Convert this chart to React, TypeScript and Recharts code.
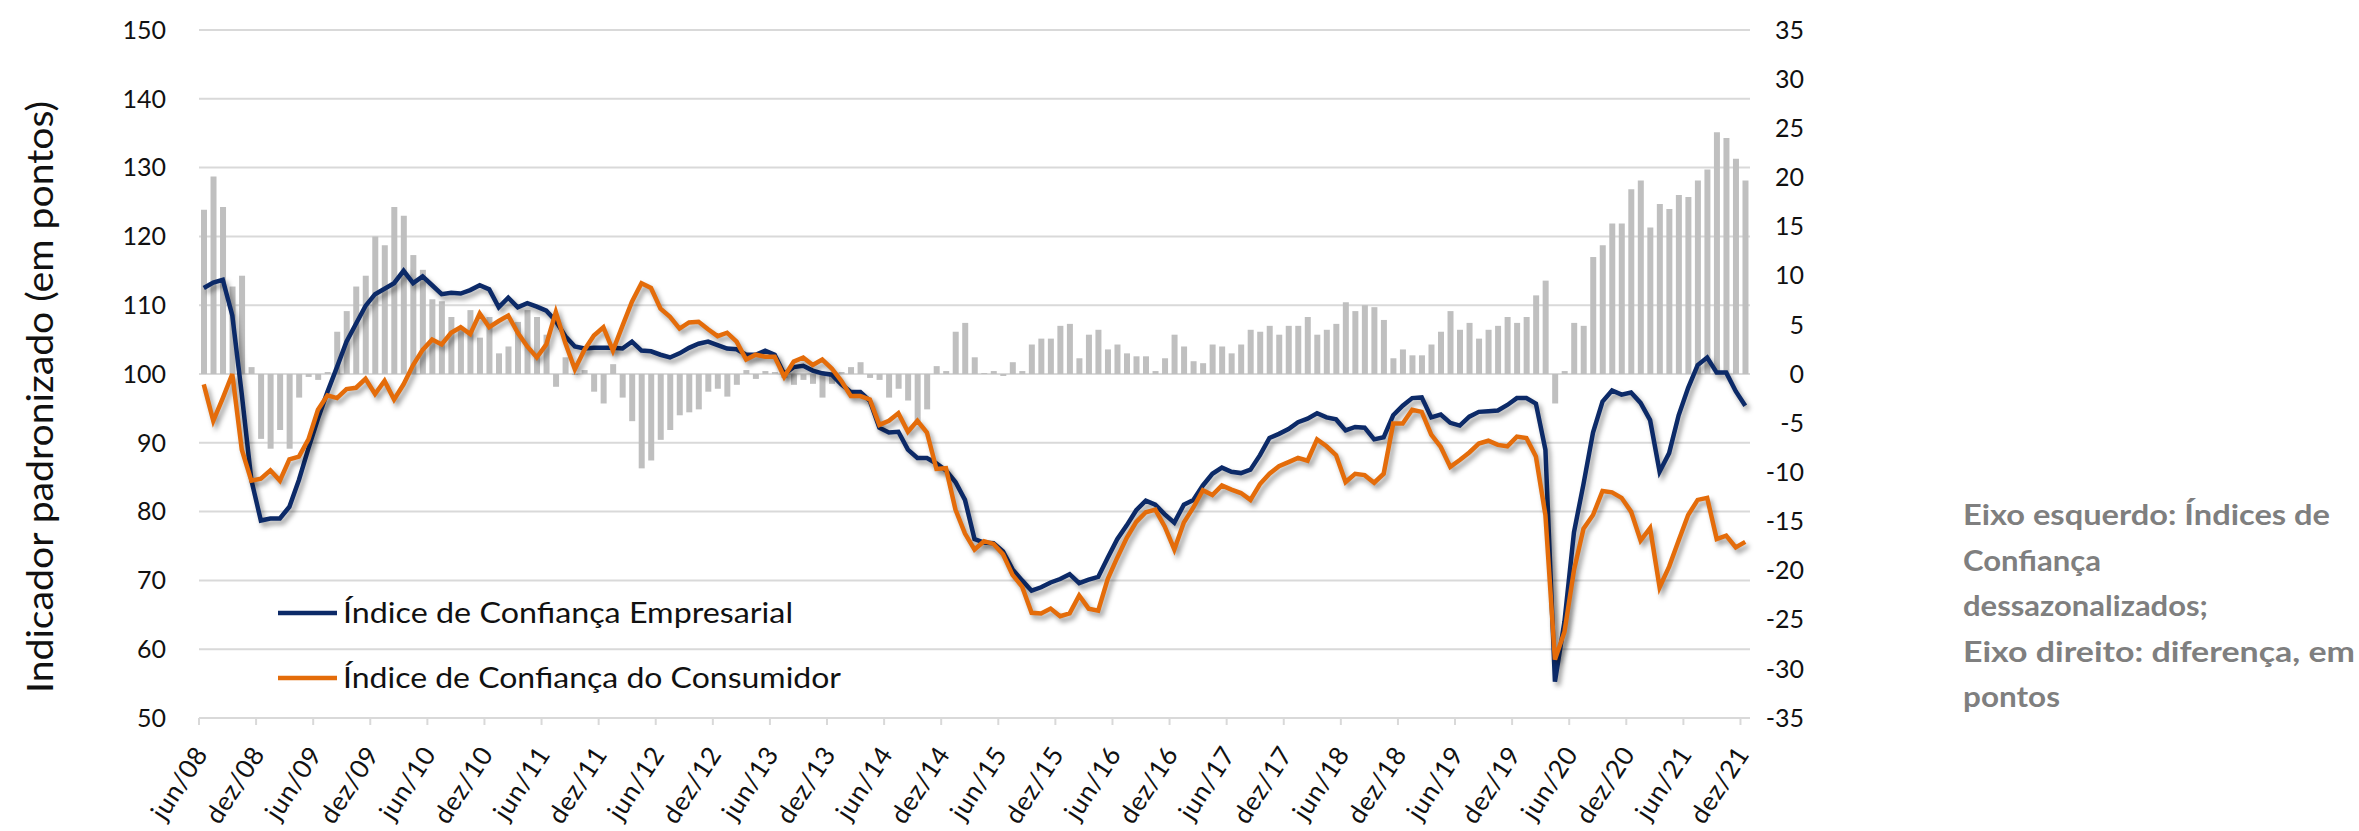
import React from 'react';
import { ComposedChart, Bar, Line, XAxis, YAxis, CartesianGrid } from 'recharts';

// month names as used on the axis (pt-BR)
const MONTHS = ['jan', 'fev', 'mar', 'abr', 'mai', 'jun', 'jul', 'ago', 'set', 'out', 'nov', 'dez'];
const FIRST_YEAR = 2008;
const FIRST_MONTH = 5; // jun/08

// Índice de Confiança Empresarial (eixo esquerdo)
const empresarial = [
  112.5, 113.3, 113.7, 108.5, 97, 84.6, 78.7,
  79, 79, 80.7, 84.6, 89.2, 93.5, 97.4, 101, 104.7, 107.3, 109.9, 111.6,
  112.4, 113.2, 115, 113.2, 114.2, 112.9, 111.6, 111.8, 111.7, 112.2, 112.9, 112.3,
  109.7, 111.1, 109.7, 110.3, 109.8, 109.2, 107.7, 105.5, 104, 103.7, 103.8, 103.8,
  103.8, 103.7, 104.7, 103.4, 103.3, 102.8, 102.4, 103, 103.8, 104.4, 104.7, 104.2,
  103.7, 103.6, 102.8, 102.8, 103.4, 102.8, 100, 101, 101.2, 100.5, 100.1, 99.9,
  98.5, 97.4, 97.4, 96.1, 92.2, 91.5, 91.6, 89, 87.8, 87.8, 87, 86,
  84.3, 81.7, 76, 75.5, 75.4, 74.2, 71.6, 70, 68.5, 69, 69.7, 70.2,
  70.9, 69.6, 70.1, 70.5, 73.3, 76, 78, 80.2, 81.6, 81, 79.6, 78.4,
  81, 81.7, 83.8, 85.5, 86.4, 85.8, 85.6, 86.1, 88.2, 90.7, 91.3, 92,
  93, 93.5, 94.3, 93.7, 93.4, 91.8, 92.3, 92.2, 90.5, 90.8, 94, 95.4,
  96.5, 96.6, 93.7, 94.1, 92.9, 92.5, 93.8, 94.5, 94.6, 94.7, 95.5, 96.5,
  96.5, 95.7, 89, 55.3, 64, 77, 84, 91.5, 96, 97.6, 97, 97.3,
  95.8, 93.3, 85.8, 88.5, 94, 98, 101.3, 102.4, 100.2, 100.2, 97.5, 95.4,
];

// Índice de Confiança do Consumidor (eixo esquerdo)
const consumidor = [
  98.5, 93.2, 96.5, 100, 89, 84.5, 84.8,
  86, 84.5, 87.6, 88, 90.5, 94.8, 96.9, 96.5, 97.8, 98, 99.3, 97.1,
  99, 96.3, 98.5, 101.3, 103.5, 105, 104.3, 106, 106.8, 105.8, 108.8, 106.8,
  107.7, 108.5, 106, 104, 102.4, 104.3, 109, 104.5, 100.7, 103.5, 105.6, 106.8,
  103.4, 107, 110.5, 113.2, 112.5, 109.5, 108.3, 106.6, 107.5, 107.6, 106.5, 105.5,
  106, 104.7, 102.1, 102.8, 102.5, 102.5, 99.6, 101.8, 102.4, 101.3, 102.1, 100.8,
  99, 96.8, 96.8, 96.3, 92.6, 93.2, 94.3, 91.6, 93.2, 91.5, 86.2, 86.3,
  80.3, 76.8, 74.5, 75.7, 75.3, 73.8, 70.8, 69.1, 65.3, 65.2, 65.9, 64.8,
  65.2, 67.8, 65.9, 65.6, 70.2, 73.3, 76.2, 78.5, 79.9, 80.3, 77.8, 74.5,
  78.4, 80.6, 83.1, 82.4, 83.8, 83.2, 82.7, 81.7, 84, 85.5, 86.6, 87.2,
  87.8, 87.4, 90.5, 89.5, 88.2, 84.3, 85.5, 85.3, 84.2, 85.5, 92.8, 92.8,
  94.8, 94.5, 91.2, 89.4, 86.5, 87.5, 88.6, 89.9, 90.3, 89.7, 89.5, 90.9,
  90.7, 88, 79.5, 58.5, 62.5, 71.5, 77.5, 79.5, 83, 82.8, 82, 80,
  75.8, 77.6, 69, 72, 75.8, 79.5, 81.7, 82, 76, 76.5, 74.8, 75.6,
];

// diferença, em pontos (eixo direito)
const diferenca = [
  16.7, 20.1, 17, 8.9, 10, 0.7, -6.6,
  -7.6, -5.7, -7.6, -2.4, -0.3, -0.6, 0.2, 4.3, 6.4, 8.9, 10, 14,
  13.1, 17, 16.1, 12.1, 10.6, 7.6, 7.4, 5.8, 4.8, 6.5, 3.7, 5.8,
  2.1, 2.8, 5.3, 6.5, 5.8, 4.0, -1.3, 1.7, -0.1, 0.4, -1.8, -3.0,
  1.0, -2.4, -4.8, -9.6, -8.8, -6.7, -5.7, -4.2, -3.9, -3.6, -1.8, -1.5,
  -2.3, -1.1, 0.4, -0.5, 0.3, 0.2, -0.4, -1.1, -0.6, -1.0, -2.4, -1.0,
  0.2, 0.7, 1.2, -0.4, -0.6, -2.4, -1.5, -2.7, -4.8, -3.6, 0.8, 0.3,
  4.3, 5.2, 1.7, 0.1, 0.3, -0.2, 1.2, 0.3, 3.0, 3.6, 3.6, 4.9,
  5.1, 1.6, 4.0, 4.5, 2.5, 3.0, 2.1, 1.8, 1.8, 0.3, 1.6, 4.0,
  2.8, 1.3, 1.1, 3.0, 2.8, 2.1, 3.0, 4.5, 4.3, 4.9, 4.0, 4.9,
  4.9, 5.8, 4.0, 4.5, 5.1, 7.3, 6.4, 7.0, 6.8, 5.5, 1.6, 2.5,
  1.9, 1.9, 3.0, 4.3, 6.4, 4.5, 5.2, 3.6, 4.5, 4.9, 5.8, 5.2,
  5.8, 8.0, 9.5, -3.0, 0.3, 5.2, 4.9, 11.9, 13.1, 15.3, 15.3, 18.8,
  19.7, 14.9, 17.3, 16.8, 18.2, 18.0, 19.7, 20.8, 24.6, 24.0, 21.9, 19.7,
];

const leftTicks = [50, 60, 70, 80, 90, 100, 110, 120, 130, 140, 150];
const rightTicks = [-35, -30, -25, -20, -15, -10, -5, 0, 5, 10, 15, 20, 25, 30, 35];

const legendItems = [
  { name: 'Índice de Confiança Empresarial', key: 'ice' },
  { name: 'Índice de Confiança do Consumidor', key: 'icc' },
];

const noteLines = [
  'Eixo esquerdo: Índices de',
  'Confiança',
  'dessazonalizados;',
  'Eixo direito: diferença, em',
  'pontos',
];

const categories = empresarial.map((_, i) => {
  const m = FIRST_MONTH + i;
  const yy = String((FIRST_YEAR + Math.floor(m / 12)) % 100).padStart(2, '0');
  return `${MONTHS[m % 12]}/${yy}`;
});

const data = categories.map((label, i) => ({
  label,
  ice: empresarial[i],
  icc: consumidor[i],
  diff: diferenca[i],
}));

const W = 2359;
const H = 831;
const PLOT_LEFT = 199;
const PLOT_RIGHT = 1750;
const PLOT_TOP = 30;
const PLOT_BOTTOM = 718;
const RIGHT_AXIS_W = 80;

const BLUE = '#0c2a68';
const ORANGE = '#e46c0a';
const BAR = '#bfbfbf';
const GRID = '#d9d9d9';
const TEXT = '#111111';
const FONT = 'Lato, "Open Sans", sans-serif';

const halfBand = (PLOT_RIGHT - PLOT_LEFT) / data.length / 2;

const XTick = (props: any) => {
  const { x, y, payload } = props;
  const tx = x + 5;
  const ty = y + 36;
  return (
    <g>
      <line x1={x - halfBand} x2={x - halfBand} y1={y} y2={y + 7} stroke={GRID} strokeWidth={2} />
      <text
        x={tx}
        y={ty}
        textAnchor="end"
        transform={`rotate(-57, ${tx}, ${ty})`}
        fontSize={26}
        letterSpacing={0.6}
        fontFamily={FONT}
        fill={TEXT}
      >
        {payload.value}
      </text>
    </g>
  );
};

const RightTick = (props: any) => {
  const { x, y, payload } = props;
  return (
    <text x={x + 54} y={y} dy="0.35em" textAnchor="end" fontSize={25} fontFamily={FONT} fill={TEXT}>
      {payload.value}
    </text>
  );
};

export default function App() {
  return (
    <div style={{ position: 'absolute', left: 0, top: 0, width: W, height: H, background: '#fff' }}>
      <style>{`.conf-chart .recharts-line-curve { filter: drop-shadow(3px 4px 2.5px rgba(0,0,0,0.38)); }`}</style>
      <div className="conf-chart">
        <ComposedChart
          width={W}
          height={H}
          data={data}
          margin={{ top: PLOT_TOP, right: W - PLOT_RIGHT - RIGHT_AXIS_W, bottom: 0, left: 0 }}
        >
          <CartesianGrid yAxisId="left" vertical={false} stroke={GRID} strokeWidth={2} />
          <XAxis
            dataKey="label"
            interval={5}
            height={H - PLOT_BOTTOM}
            tickSize={0}
            tickMargin={0}
            tickLine={false}
            axisLine={{ stroke: GRID, strokeWidth: 2 }}
            tick={<XTick />}
          />
          <YAxis
            yAxisId="left"
            domain={[50, 150]}
            ticks={leftTicks}
            interval={0}
            width={PLOT_LEFT}
            axisLine={false}
            tickLine={false}
            tickSize={0}
            tickMargin={33}
            tick={{ fontSize: 25, fontFamily: FONT, fill: TEXT }}
          />
          <YAxis
            yAxisId="right"
            orientation="right"
            domain={[-35, 35]}
            ticks={rightTicks}
            interval={0}
            width={RIGHT_AXIS_W}
            axisLine={false}
            tickLine={false}
            tickSize={0}
            tickMargin={0}
            tick={<RightTick />}
          />
          <Bar yAxisId="right" dataKey="diff" fill={BAR} barSize={6} isAnimationActive={false} />
          <Line
            yAxisId="left"
            type="linear"
            dataKey="ice"
            stroke={BLUE}
            strokeWidth={4.5}
            dot={false}
            activeDot={false}
            isAnimationActive={false}
          />
          <Line
            yAxisId="left"
            type="linear"
            dataKey="icc"
            stroke={ORANGE}
            strokeWidth={4.5}
            dot={false}
            activeDot={false}
            isAnimationActive={false}
          />
        </ComposedChart>
      </div>
      <svg
        width={W}
        height={H}
        style={{ position: 'absolute', left: 0, top: 0, pointerEvents: 'none' }}
        fontFamily={FONT}
      >
        <text
          transform="translate(39 397) rotate(-90)"
          textAnchor="middle"
          dominantBaseline="central"
          fontSize={36}
          fill={TEXT}
          textLength={592}
          lengthAdjust="spacingAndGlyphs"
        >
          Indicador padronizado (em pontos)
        </text>
        {legendItems.map((item, i) => {
          const cy = 613 + i * 65;
          return (
            <g key={item.key}>
              <line x1={278} x2={337} y1={cy} y2={cy} stroke={item.key === 'ice' ? BLUE : ORANGE} strokeWidth={4.5} />
              <text
                x={343}
                y={cy + 10}
                fontSize={29}
                fill={TEXT}
                textLength={i === 0 ? 450 : 498}
                lengthAdjust="spacingAndGlyphs"
              >
                {item.name}
              </text>
            </g>
          );
        })}
        {noteLines.map((line, i) => (
          <text
            key={i}
            x={1963}
            y={525 + i * 45.5}
            fontSize={28}
            fontWeight="bold"
            fill="#7f7f7f"
            textLength={[367, 138, 245, 392, 97][i]}
            lengthAdjust="spacingAndGlyphs"
          >
            {line}
          </text>
        ))}
      </svg>
    </div>
  );
}
